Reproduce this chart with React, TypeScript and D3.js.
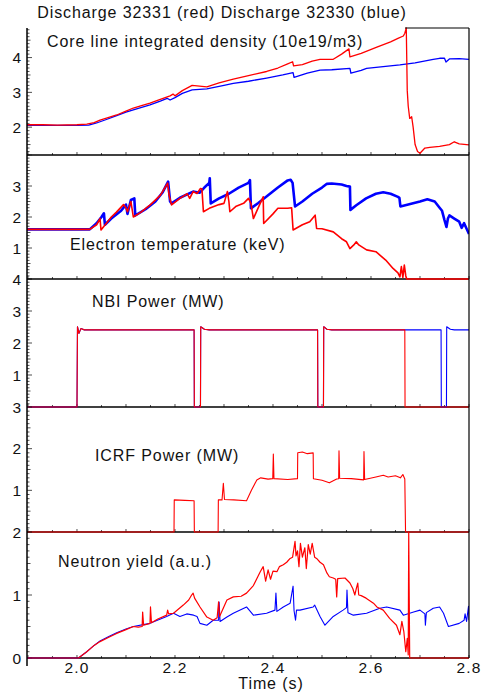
import React from "react";
import * as d3 from "d3";

type Pt = [number, number];

const titleText = "Discharge 32331 (red) Discharge 32330 (blue)";
const xTickLabels = [2.0, 2.2, 2.4, 2.6, 2.8];
const xAxisTitle = "Time (s)";

const panelTitles = [
  "Core line integrated density (10e19/m3)",
  "Electron temperature (keV)",
  "NBI Power (MW)",
  "ICRF Power (MW)",
  "Neutron yield (a.u.)",
];
const panelDomains: Pt[] = [[1.2, 4.85], [0, 4], [0, 4], [0, 3], [0, 2]];
const panelTickLabels = [[2, 3, 4], [1, 2, 3], [1, 2, 3, 4], [1, 2, 3], [0, 1, 2]];

// Core line integrated density
const densityBlue: Pt[] = [
  [1.898, 2.05], [1.95, 2.05], [2.0, 2.05], [2.024, 2.06], [2.04, 2.12], [2.06, 2.22], [2.081, 2.33], [2.1, 2.43],
  [2.115, 2.5], [2.149, 2.64], [2.17, 2.75], [2.184, 2.83], [2.19, 2.78], [2.2, 2.85], [2.215, 2.97], [2.235, 3.07],
  [2.265, 3.1], [2.3, 3.2], [2.319, 3.26], [2.35, 3.32], [2.387, 3.41], [2.42, 3.5], [2.441, 3.57], [2.443, 3.43],
  [2.47, 3.55], [2.496, 3.64], [2.52, 3.65], [2.557, 3.69], [2.559, 3.55], [2.58, 3.63], [2.591, 3.69], [2.62, 3.73],
  [2.659, 3.79], [2.69, 3.85], [2.727, 3.95], [2.74, 3.98], [2.75, 3.98], [2.753, 3.87], [2.76, 3.96], [2.78, 3.97],
  [2.8, 3.95],
];
const densityRed: Pt[] = [
  [1.898, 2.07], [1.93, 2.07], [1.96, 2.06], [2.0, 2.07], [2.02, 2.09], [2.035, 2.13], [2.047, 2.2], [2.065, 2.28],
  [2.081, 2.35], [2.1, 2.46], [2.115, 2.55], [2.13, 2.61], [2.149, 2.69], [2.17, 2.8], [2.19, 2.9], [2.196, 2.95],
  [2.2, 2.9], [2.215, 3.05], [2.235, 3.2], [2.25, 3.18], [2.265, 3.16], [2.29, 3.27], [2.319, 3.38], [2.35, 3.48],
  [2.387, 3.6], [2.41, 3.7], [2.43, 3.82], [2.44, 3.88], [2.442, 3.76], [2.46, 3.8], [2.48, 3.9], [2.496, 3.95],
  [2.523, 3.95], [2.54, 4.1], [2.555, 4.25], [2.557, 4.02], [2.58, 4.12], [2.612, 4.3], [2.64, 4.45], [2.655, 4.55],
  [2.666, 4.62], [2.669, 4.7], [2.672, 4.85], [2.674, 3.05], [2.676, 2.6], [2.679, 2.25], [2.683, 2.3], [2.686, 2.0],
  [2.69, 1.5], [2.695, 1.3], [2.7, 1.25], [2.71, 1.4], [2.72, 1.42], [2.74, 1.45], [2.76, 1.5], [2.77, 1.58],
  [2.78, 1.52], [2.8, 1.49],
];

// Electron temperature
const teBlue: Pt[] = [
  [1.898, 1.6], [2.026, 1.6], [2.04, 1.8], [2.05, 2.0], [2.055, 2.12], [2.057, 1.75], [2.07, 1.95], [2.09, 2.2],
  [2.1, 2.4], [2.103, 2.1], [2.11, 2.55], [2.117, 2.6], [2.119, 2.05], [2.14, 2.25], [2.16, 2.5], [2.175, 2.8],
  [2.186, 3.14], [2.19, 2.5], [2.193, 2.44], [2.21, 2.62], [2.237, 2.82], [2.25, 2.78], [2.26, 2.95], [2.27, 3.1],
  [2.271, 3.25], [2.273, 2.44], [2.29, 2.6], [2.31, 2.75], [2.33, 2.95], [2.35, 3.1], [2.353, 3.19], [2.355, 2.28],
  [2.37, 2.45], [2.39, 2.7], [2.41, 2.95], [2.43, 3.18], [2.436, 3.2], [2.44, 3.1], [2.445, 2.34], [2.46, 2.5],
  [2.48, 2.75], [2.5, 2.95], [2.51, 3.07], [2.52, 3.08], [2.54, 3.05], [2.55, 3.0], [2.557, 2.98], [2.558, 2.23],
  [2.57, 2.38], [2.59, 2.6], [2.61, 2.75], [2.625, 2.8], [2.64, 2.75], [2.655, 2.65], [2.658, 2.62], [2.66, 2.34],
  [2.68, 2.42], [2.7, 2.5], [2.715, 2.57], [2.73, 2.5], [2.74, 2.3], [2.745, 2.2], [2.75, 1.9], [2.754, 1.68],
  [2.757, 1.95], [2.76, 2.05], [2.77, 1.95], [2.78, 1.85], [2.785, 1.65], [2.79, 1.8], [2.8, 1.45],
];
const teRed: Pt[] = [
  [1.898, 1.6], [2.026, 1.6], [2.04, 1.75], [2.047, 1.95], [2.049, 1.58], [2.06, 1.8], [2.07, 2.0], [2.08, 2.15],
  [2.095, 2.4], [2.1, 2.3], [2.103, 2.17], [2.11, 2.5], [2.115, 2.0], [2.13, 2.15], [2.15, 2.4], [2.17, 2.7],
  [2.185, 3.09], [2.188, 2.7], [2.193, 2.39], [2.21, 2.6], [2.225, 2.75], [2.23, 2.6], [2.237, 2.82], [2.245, 2.76],
  [2.252, 2.92], [2.255, 2.9], [2.258, 2.17], [2.27, 2.28], [2.29, 2.4], [2.3, 2.44], [2.307, 2.82], [2.31, 2.5],
  [2.312, 2.17], [2.325, 2.35], [2.34, 2.44], [2.35, 2.6], [2.355, 2.44], [2.36, 1.95], [2.37, 2.3], [2.38, 2.65],
  [2.381, 1.79], [2.4, 2.1], [2.41, 2.28], [2.43, 2.28], [2.438, 2.3], [2.441, 1.58], [2.46, 1.75], [2.475, 1.85],
  [2.486, 2.06], [2.489, 1.63], [2.5, 1.62], [2.523, 1.52], [2.54, 1.3], [2.55, 1.2], [2.557, 0.98], [2.565, 1.1],
  [2.57, 1.2], [2.575, 1.1], [2.591, 0.94], [2.61, 0.88], [2.63, 0.61], [2.645, 0.34], [2.655, 0.2], [2.659, 0.07],
  [2.662, 0.4], [2.665, 0.05], [2.668, 0.45], [2.671, 0.1], [2.673, 0], [2.8, 0],
];

// NBI power
const nbiBlue: Pt[] = [
  [1.898, 0], [2.0, 0], [2.001, 2.51], [2.004, 2.3], [2.008, 2.45], [2.015, 2.41], [2.239, 2.41], [2.2395, 0],
  [2.252, 0], [2.2525, 2.51], [2.26, 2.43], [2.27, 2.41], [2.491, 2.41], [2.4915, 0], [2.503, 0], [2.5035, 2.51],
  [2.51, 2.43], [2.52, 2.41], [2.743, 2.41], [2.7435, 0], [2.754, 0], [2.7545, 2.51], [2.762, 2.43], [2.77, 2.41],
  [2.8, 2.41],
];
const nbiRed: Pt[] = [
  [1.898, 0], [2.0, 0], [2.001, 2.51], [2.004, 2.3], [2.008, 2.45], [2.015, 2.41], [2.239, 2.41], [2.2395, 0],
  [2.252, 0], [2.2525, 2.51], [2.26, 2.43], [2.27, 2.41], [2.491, 2.41], [2.4915, 0], [2.503, 0], [2.5035, 2.51],
  [2.51, 2.43], [2.52, 2.41], [2.669, 2.41], [2.6695, 0], [2.8, 0],
];

// ICRF power
const icrfRed: Pt[] = [
  [1.898, 0], [2.198, 0], [2.1985, 0.77], [2.22, 0.76], [2.239, 0.75], [2.2395, 0], [2.288, 0], [2.2885, 0.77],
  [2.296, 0.77], [2.2987, 1.17], [2.301, 0.78], [2.32, 0.77], [2.346, 0.75], [2.356, 1.0], [2.367, 1.25],
  [2.375, 1.3], [2.39, 1.27], [2.3995, 1.28], [2.4007, 1.87], [2.402, 1.28], [2.43, 1.26], [2.45, 1.28],
  [2.4505, 1.9], [2.46, 1.92], [2.47, 1.88], [2.482, 1.9], [2.4825, 1.28], [2.5, 1.24], [2.515, 1.18],
  [2.53, 1.27], [2.534, 1.28], [2.5347, 1.95], [2.536, 1.29], [2.56, 1.28], [2.585, 1.25], [2.5857, 1.93],
  [2.587, 1.26], [2.61, 1.32], [2.625, 1.36], [2.635, 1.32], [2.65, 1.35], [2.66, 1.3], [2.665, 1.38],
  [2.669, 1.27], [2.6705, 0], [2.8, 0],
];

// Neutron yield
const neutronBlue: Pt[] = [
  [1.898, 0], [2.003, 0], [2.02, 0.1], [2.035, 0.2], [2.047, 0.27], [2.065, 0.34], [2.081, 0.4], [2.1, 0.46],
  [2.115, 0.5], [2.149, 0.55], [2.183, 0.66], [2.197, 0.71], [2.21, 0.66], [2.224, 0.7], [2.238, 0.68],
  [2.245, 0.66], [2.251, 0.55], [2.265, 0.52], [2.278, 0.6], [2.289, 0.6], [2.29, 0.89], [2.292, 0.58],
  [2.306, 0.65], [2.319, 0.71], [2.346, 0.81], [2.36, 0.68], [2.387, 0.71], [2.404, 0.76], [2.406, 1.03],
  [2.408, 0.74], [2.421, 0.81], [2.435, 0.87], [2.441, 1.14], [2.443, 0.75], [2.446, 0.6], [2.448, 0.76],
  [2.455, 0.76], [2.482, 0.81], [2.485, 0.84], [2.496, 0.66], [2.506, 0.52], [2.523, 0.66], [2.543, 0.76],
  [2.55, 0.8], [2.551, 1.08], [2.553, 0.72], [2.564, 0.68], [2.591, 0.71], [2.618, 0.79], [2.632, 0.81],
  [2.659, 0.76], [2.666, 0.68], [2.687, 0.73], [2.7, 0.76], [2.71, 0.7], [2.711, 0.52], [2.713, 0.72],
  [2.727, 0.79], [2.74, 0.81], [2.748, 0.71], [2.758, 0.5], [2.78, 0.55], [2.79, 0.6], [2.792, 0.7],
  [2.795, 0.58], [2.799, 0.82], [2.8, 0.6],
];
const neutronRed: Pt[] = [
  [1.898, 0], [2.003, 0], [2.02, 0.1], [2.035, 0.2], [2.047, 0.26], [2.065, 0.33], [2.081, 0.39], [2.1, 0.45],
  [2.115, 0.5], [2.125, 0.49], [2.133, 0.5], [2.134, 0.73], [2.136, 0.52], [2.149, 0.55], [2.15, 0.81],
  [2.152, 0.56], [2.165, 0.62], [2.183, 0.68], [2.185, 0.76], [2.187, 0.7], [2.197, 0.71], [2.217, 0.84],
  [2.228, 0.92], [2.234, 1.0], [2.237, 1.03], [2.24, 0.95], [2.251, 0.81], [2.265, 0.65], [2.278, 0.6],
  [2.286, 0.64], [2.289, 0.89], [2.291, 0.66], [2.306, 0.92], [2.319, 0.97], [2.335, 0.98], [2.346, 1.03],
  [2.36, 1.15], [2.374, 1.37], [2.38, 1.45], [2.385, 1.22], [2.39, 1.4], [2.395, 1.25], [2.4, 1.38],
  [2.408, 1.37], [2.413, 1.45], [2.421, 1.48], [2.428, 1.52], [2.435, 1.58], [2.44, 1.6], [2.445, 1.85],
  [2.447, 1.62], [2.45, 1.7], [2.453, 1.45], [2.456, 1.82], [2.46, 1.6], [2.465, 1.75], [2.468, 1.42],
  [2.472, 1.8], [2.476, 1.65], [2.48, 1.82], [2.485, 1.6], [2.489, 1.58], [2.496, 1.52], [2.503, 1.48],
  [2.51, 1.35], [2.515, 1.29], [2.523, 1.27], [2.528, 1.25], [2.53, 0.97], [2.532, 1.26], [2.547, 1.27],
  [2.557, 1.19], [2.563, 1.1], [2.567, 1.0], [2.57, 1.1], [2.573, 1.19], [2.575, 1.0], [2.58, 0.99],
  [2.585, 0.97], [2.59, 0.95], [2.605, 0.87], [2.612, 0.81], [2.625, 0.76], [2.638, 0.63], [2.652, 0.52],
  [2.659, 0.37], [2.663, 0.58], [2.667, 0.42], [2.671, 0.1], [2.674, 0.31], [2.676, 0.05], [2.677, 2.0],
  [2.679, 0], [2.8, 0],
];

const panelSeries: { blue: Pt[] | null; red: Pt[]; blueW: number; redW: number }[] = [
  { blue: densityBlue, red: densityRed, blueW: 1.3, redW: 1.3 },
  { blue: teBlue, red: teRed, blueW: 2.6, redW: 1.6 },
  { blue: nbiBlue, red: nbiRed, blueW: 1.1, redW: 1.1 },
  { blue: null, red: icrfRed, blueW: 1, redW: 1.1 },
  { blue: neutronBlue, red: neutronRed, blueW: 1.1, redW: 1.2 },
];

const W = 483;
const H = 697;
const X0 = 27;
const X1 = 469;
const panelBounds: Pt[] = [[28, 155], [155, 279], [279, 407], [407, 532], [532, 658]];
const labelPos: Pt[] = [[47, 47], [70, 250], [92, 307], [95, 461], [58, 567]];
const FONT = "'Liberation Sans', Arial, Helvetica, sans-serif";

export default function App() {
  const x = d3.scaleLinear().domain([1.898, 2.8]).range([X0, X1]);
  const xMinor = d3.range(38, 57).map((i) => i * 0.05);

  return (
    <svg
      width={W}
      height={H}
      viewBox={`0 0 ${W} ${H}`}
      style={{ position: "absolute", left: 0, top: 0, background: "#fff" }}
      fontFamily={FONT}
    >
      <defs>
        {panelBounds.map(([t, b], i) => (
          <clipPath id={`clip${i}`} key={i}>
            <rect x={X0} y={t - 1} width={X1 - X0} height={b - t + 2} />
          </clipPath>
        ))}
      </defs>
      <rect width={W} height={H} fill="#fff" />

      <text x={222} y={18} fontSize={16} letterSpacing={0.9} textAnchor="middle" fill="#111">
        {titleText}
      </text>

      {panelBounds.map(([top, bottom], i) => {
        const dom = panelDomains[i];
        const y = d3.scaleLinear().domain(dom).range([bottom, top]);
        const line = d3
          .line<Pt>()
          .x((d) => x(d[0]))
          .y((d) => y(d[1]));
        const minor = d3
          .range(Math.ceil(dom[0] * 10 - 1e-6), Math.floor(dom[1] * 10 + 1e-6) + 1)
          .map((k) => k / 10);
        const s = panelSeries[i];
        return (
          <g key={i}>
            {minor.map((v, k) => {
              const isMajor = Math.abs(v - Math.round(v)) < 1e-6;
              const isHalf = Math.abs(v * 2 - Math.round(v * 2)) < 1e-6;
              const len = isMajor ? 5 : isHalf ? 3.5 : 2.5;
              return (
                <line key={k} x1={X0} x2={X0 + len} y1={y(v)} y2={y(v)} stroke="#222" strokeWidth={0.8} />
              );
            })}
            {xMinor.map((t, k) => {
              const major = Math.abs(t * 10 - Math.round(t * 10)) < 1e-6;
              return (
                <line
                  key={k}
                  x1={x(t)}
                  x2={x(t)}
                  y1={bottom}
                  y2={bottom - (major ? 3 : 2)}
                  stroke="#222"
                  strokeWidth={0.8}
                />
              );
            })}
            <line x1={X0} x2={X1} y1={bottom} y2={bottom} stroke="#000" strokeWidth={1.5} />
            {panelTickLabels[i].map((v) => (
              <text
                key={v}
                x={21}
                y={y(v)}
                dy="0.36em"
                fontSize={15.5}
                textAnchor="end"
                fill="#111"
              >
                {v}
              </text>
            ))}
            <text x={labelPos[i][0]} y={labelPos[i][1]} fontSize={16} letterSpacing={0.9} fill="#111">
              {panelTitles[i]}
            </text>
            <g clipPath={`url(#clip${i})`} fill="none" strokeLinejoin="round">
              {s.blue && <path d={line(s.blue) || ""} stroke="#0000ff" strokeWidth={s.blueW} />}
              <path d={line(s.red) || ""} stroke="#ff0000" strokeWidth={s.redW} />
            </g>
          </g>
        );
      })}

      <line x1={X0} x2={X0} y1={28} y2={666} stroke="#000" strokeWidth={1.5} />
      <line x1={X1} x2={X1} y1={28} y2={658} stroke="#000" strokeWidth={1.2} />
      <line x1={405} x2={X1} y1={28} y2={28} stroke="#000" strokeWidth={1.2} />

      {xTickLabels.map((t) => (
        <text key={t} x={x(t)} y={673} fontSize={15.5} letterSpacing={1.2} textAnchor="middle" fill="#111">
          {t.toFixed(1)}
        </text>
      ))}
      <text x={271} y={689} fontSize={16} letterSpacing={0.9} textAnchor="middle" fill="#111">
        {xAxisTitle}
      </text>
    </svg>
  );
}
